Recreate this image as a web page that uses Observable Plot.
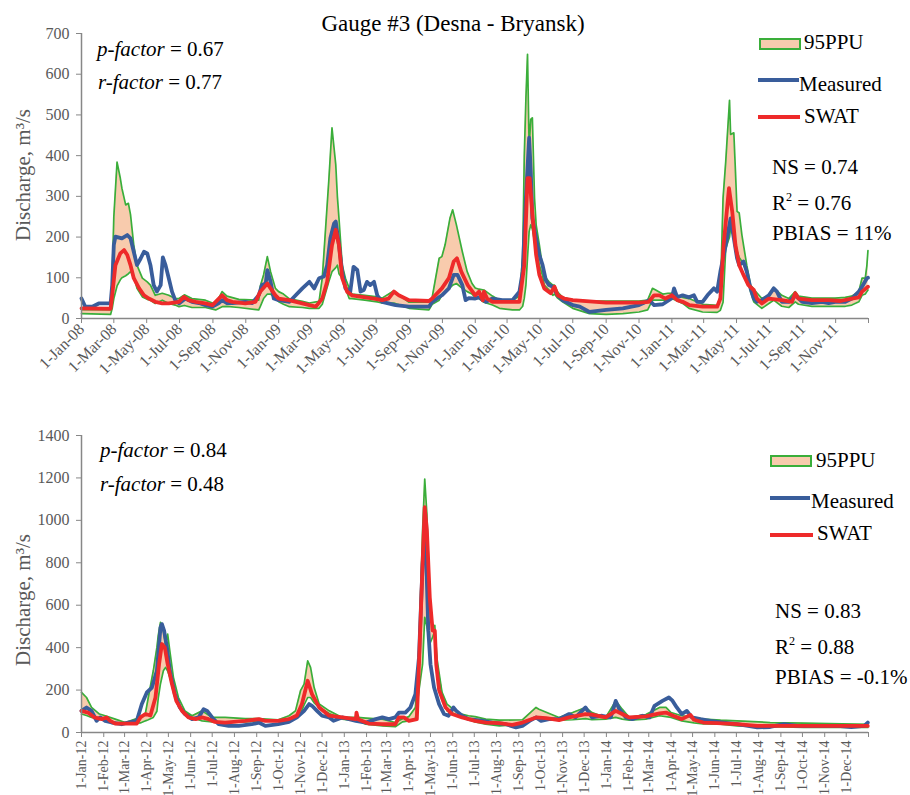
<!DOCTYPE html>
<html><head><meta charset="utf-8">
<script src="https://cdn.jsdelivr.net/npm/d3@7"></script>
<script src="https://cdn.jsdelivr.net/npm/@observablehq/plot@0.6"></script>
<style>
body{margin:0;background:#fff;}
#wrap{position:relative;width:910px;height:795px;overflow:hidden;font-family:"Liberation Serif","Times New Roman",serif;color:#000;background:#fff;}
.t{position:absolute;white-space:nowrap;line-height:1;}
.sup{font-size:0.58em;position:relative;top:-0.75em;line-height:0;}
.sw{position:absolute;}
</style></head><body><div id="wrap"></div>
<script>
// ---------------- DATA ----------------
const title = "Gauge #3 (Desna - Bryansk)";
const yLabel = "Discharge, m³/s";
const legendLabels = ["95PPU", "Measured", "SWAT"];
const topFactors = ["0.67", "0.77"];           // p-factor, r-factor
const bottomFactors = ["0.84", "0.48"];
const topStats = ["NS = 0.74", "R² = 0.76", "PBIAS = 11%"];
const bottomStats = ["NS = 0.83", "R² = 0.88", "PBIAS = -0.1%"];

// 95PPU band: [date, lower, upper]
const topBand = [
["2008-01-01",12,22],["2008-02-24",10,22],["2008-02-27",25,100],["2008-03-01",49,250],["2008-03-07",80,384],
["2008-03-13",95,345],["2008-03-16",100,320],["2008-03-23",105,279],["2008-03-28",110,283],["2008-04-01",115,255],
["2008-04-07",105,181],["2008-04-13",74,131],["2008-04-23",53,99],["2008-05-02",47,90],["2008-05-08",45,82],
["2008-05-17",37,57],["2008-05-30",45,62],["2008-06-11",37,57],["2008-06-23",33,49],["2008-06-30",29,49],
["2008-07-10",32,58],["2008-07-24",27,49],["2008-08-18",27,45],["2008-09-06",21,35],["2008-09-18",29,66],
["2008-09-27",30,55],["2008-10-19",27,47],["2008-11-25",21,45],["2008-11-28",30,80],["2008-12-04",49,107],
["2008-12-11",60,152],["2008-12-17",60,115],["2008-12-26",50,74],
["2009-01-01",41,66],["2009-01-10",35,60],["2009-01-21",29,48],["2009-02-14",27,42],["2009-02-27",25,38],
["2009-03-17",25,42],["2009-03-23",35,100],["2009-04-04",90,337],["2009-04-10",115,468],["2009-04-17",125,378],
["2009-04-20",131,300],["2009-04-23",110,246],["2009-04-29",99,131],["2009-05-05",74,99],["2009-05-12",49,74],
["2009-05-17",49,60],["2009-06-10",45,57],["2009-07-03",41,53],["2009-07-12",38,50],["2009-08-03",38,68],
["2009-08-10",35,60],["2009-08-31",25,40],["2009-10-07",21,40],["2009-10-13",35,52],["2009-10-26",45,148],
["2009-10-31",57,152],["2009-11-06",65,181],["2009-11-15",75,246],["2009-11-20",82,267],["2009-11-27",86,230],
["2009-12-08",74,164],["2009-12-17",66,115],["2009-12-26",60,86],
["2010-01-01",52,75],["2010-01-08",49,72],["2010-01-17",40,70],["2010-02-02",33,55],["2010-02-15",25,45],
["2010-03-11",21,45],["2010-03-24",21,55],["2010-03-30",30,150],["2010-04-02",50,400],["2010-04-05",82,540],
["2010-04-08",150,649],["2010-04-11",214,420],["2010-04-14",230,489],["2010-04-17",220,493],["2010-04-21",189,296],
["2010-04-24",170,230],["2010-04-30",131,181],["2010-05-06",105,125],["2010-05-09",82,105],["2010-05-18",70,90],
["2010-05-25",57,82],["2010-05-28",60,82],["2010-06-03",50,65],["2010-06-12",41,52],["2010-07-01",25,46],
["2010-08-01",12,43],["2010-09-01",10,43],["2010-10-02",12,43],["2010-11-01",16,43],["2010-11-17",21,45],
["2010-11-26",45,74],["2010-12-02",45,70],["2010-12-15",45,60],["2010-12-25",45,62],
["2011-01-01",49,62],["2011-01-21",37,52],["2011-02-02",25,49],["2011-02-27",16,35],["2011-03-26",15,32],
["2011-04-01",20,55],["2011-04-06",40,296],["2011-04-11",172,386],["2011-04-18",200,536],["2011-04-20",222,452],
["2011-04-26",200,456],["2011-04-29",180,362],["2011-05-02",165,263],["2011-05-06",150,259],["2011-05-11",140,205],
["2011-05-20",115,131],["2011-05-27",66,82],["2011-06-02",41,72],["2011-06-17",25,49],["2011-06-30",37,57],
["2011-07-09",45,76],["2011-07-24",30,57],["2011-08-06",27,49],["2011-08-18",41,66],["2011-08-24",35,55],
["2011-09-18",30,50],["2011-10-31",30,50],["2011-11-19",30,52],["2011-12-01",33,55],["2011-12-14",41,66],
["2011-12-20",57,99],["2011-12-26",60,99],["2011-12-29",66,130],["2011-12-31",70,167]
];
const topMeasured = [
["2008-01-01",49],["2008-01-08",29],["2008-01-21",29],["2008-02-02",37],["2008-02-24",37],["2008-02-27",82],
["2008-03-01",181],["2008-03-04",201],["2008-03-16",197],["2008-03-26",205],["2008-04-01",197],["2008-04-07",164],
["2008-04-13",131],["2008-04-20",148],["2008-04-26",164],["2008-05-02",160],["2008-05-08",131],["2008-05-14",82],
["2008-05-20",66],["2008-05-27",82],["2008-05-31",150],["2008-06-05",131],["2008-06-11",99],["2008-06-17",66],
["2008-06-23",45],["2008-06-30",37],["2008-07-12",49],["2008-07-24",41],["2008-08-06",38],["2008-08-18",33],
["2008-08-31",29],["2008-09-12",38],["2008-09-18",45],["2008-09-27",38],["2008-10-07",38],["2008-10-31",41],
["2008-11-13",38],["2008-11-25",57],["2008-12-01",82],["2008-12-08",86],["2008-12-11",119],["2008-12-17",90],
["2008-12-23",49],
["2009-01-01",45],["2009-01-21",41],["2009-02-14",74],["2009-02-27",90],["2009-03-08",74],["2009-03-17",99],
["2009-03-26",103],["2009-04-01",131],["2009-04-07",197],["2009-04-14",234],["2009-04-17",238],["2009-04-23",180],
["2009-04-29",115],["2009-05-05",74],["2009-05-14",66],["2009-05-20",127],["2009-05-27",119],["2009-06-02",66],
["2009-06-08",70],["2009-06-14",90],["2009-06-20",82],["2009-06-27",90],["2009-07-03",57],["2009-07-12",41],
["2009-08-06",33],["2009-08-31",29],["2009-10-07",29],["2009-10-13",41],["2009-10-31",57],["2009-11-13",74],
["2009-11-22",107],["2009-11-29",107],["2009-12-08",82],["2009-12-14",45],["2009-12-20",50],
["2010-01-01",49],["2010-01-08",52],["2010-01-21",41],["2010-02-02",49],["2010-02-20",45],["2010-03-11",45],
["2010-03-24",66],["2010-03-30",115],["2010-04-05",296],["2010-04-11",444],["2010-04-14",362],["2010-04-17",246],
["2010-04-24",197],["2010-04-30",156],["2010-05-06",131],["2010-05-12",94],["2010-05-18",82],["2010-05-25",78],
["2010-06-03",57],["2010-06-12",45],["2010-07-01",33],["2010-07-14",29],["2010-08-01",16],["2010-09-01",21],
["2010-10-02",25],["2010-11-01",33],["2010-11-20",45],["2010-11-29",33],["2010-12-15",35],
["2011-01-01",50],["2011-01-05",74],["2011-01-11",52],["2011-01-21",57],["2011-02-02",52],["2011-02-11",57],
["2011-02-17",41],["2011-02-27",41],["2011-03-08",57],["2011-03-20",74],["2011-03-26",66],["2011-04-01",115],
["2011-04-11",180],["2011-04-20",246],["2011-04-26",197],["2011-05-02",148],["2011-05-06",131],["2011-05-14",140],
["2011-05-20",115],["2011-05-27",74],["2011-06-02",49],["2011-06-08",41],["2011-06-17",45],["2011-06-30",57],
["2011-07-09",74],["2011-07-15",66],["2011-07-24",41],["2011-08-06",41],["2011-08-18",57],["2011-08-31",41],
["2011-09-18",38],["2011-10-07",41],["2011-10-19",38],["2011-10-31",41],["2011-11-19",41],["2011-12-01",49],
["2011-12-14",66],["2011-12-20",78],["2011-12-29",99],["2011-12-31",100]
];
const topSwat = [
["2008-01-01",25],["2008-02-24",24],["2008-02-27",57],["2008-03-04",131],["2008-03-13",160],["2008-03-20",168],
["2008-03-26",156],["2008-04-01",131],["2008-04-07",99],["2008-04-17",74],["2008-04-26",57],["2008-05-05",49],
["2008-05-17",41],["2008-05-30",37],["2008-06-11",37],["2008-06-30",41],["2008-07-09",53],["2008-07-18",45],
["2008-07-31",41],["2008-08-18",37],["2008-08-31",33],["2008-09-18",57],["2008-09-27",45],["2008-10-07",41],
["2008-10-31",37],["2008-11-19",41],["2008-11-28",66],["2008-12-11",86],["2008-12-17",74],["2008-12-26",57],
["2009-01-01",49],["2009-01-20",45],["2009-02-14",37],["2009-02-27",33],["2009-03-11",29],["2009-03-23",49],
["2009-04-01",90],["2009-04-10",180],["2009-04-17",218],["2009-04-23",180],["2009-04-29",99],["2009-05-08",66],
["2009-05-17",57],["2009-06-05",53],["2009-06-27",49],["2009-07-12",45],["2009-07-24",49],["2009-08-03",66],
["2009-08-12",57],["2009-08-31",45],["2009-10-07",43],["2009-10-13",49],["2009-10-31",74],["2009-11-13",99],
["2009-11-22",140],["2009-11-28",148],["2009-12-06",115],["2009-12-18",82],
["2010-01-01",57],["2010-01-08",66],["2010-01-15",45],["2010-01-17",66],["2010-01-23",49],["2010-02-02",41],
["2010-03-24",41],["2010-04-02",131],["2010-04-08",345],["2010-04-12",345],["2010-04-17",255],["2010-04-24",156],
["2010-04-30",107],["2010-05-09",74],["2010-05-21",62],["2010-05-28",78],["2010-06-03",57],["2010-06-15",49],
["2010-07-01",45],["2010-09-01",39],["2010-11-01",39],["2010-11-19",41],["2010-11-29",57],["2010-12-09",57],
["2010-12-20",49],
["2011-01-01",57],["2011-01-11",45],["2011-01-21",41],["2011-02-02",33],["2011-02-27",29],["2011-03-26",29],
["2011-04-01",49],["2011-04-07",180],["2011-04-17",320],["2011-04-23",263],["2011-04-29",180],["2011-05-06",131],
["2011-05-14",107],["2011-05-23",82],["2011-06-02",70],["2011-06-08",49],["2011-06-17",37],["2011-06-30",49],
["2011-07-24",45],["2011-08-12",41],["2011-08-18",62],["2011-08-24",49],["2011-09-18",45],["2011-10-19",45],
["2011-11-10",43],["2011-12-01",49],["2011-12-14",52],["2011-12-20",66],["2011-12-31",78]
];

const bottomBand = [
["2012-01-01",87,189],["2012-01-08",80,165],["2012-01-15",71,118],["2012-01-26",65,87],["2012-02-03",63,79],
["2012-02-17",47,63],["2012-03-02",39,47],["2012-03-23",45,72],["2012-03-30",55,90],["2012-04-03",60,165],
["2012-04-10",71,291],["2012-04-15",100,401],["2012-04-17",165,460],["2012-04-20",230,519],["2012-04-24",291,480],
["2012-04-27",307,417],["2012-04-30",290,464],["2012-05-03",260,385],["2012-05-08",200,260],["2012-05-15",134,165],
["2012-05-24",94,102],["2012-06-03",71,79],["2012-06-17",55,102],["2012-07-01",50,71],["2012-07-19",47,71],
["2012-08-16",50,65],["2012-09-04",55,65],["2012-10-01",55,60],["2012-10-16",65,79],["2012-10-25",80,102],
["2012-11-01",90,197],["2012-11-06",130,228],["2012-11-11",165,338],["2012-11-15",165,307],["2012-11-20",140,212],
["2012-11-27",118,134],["2012-12-11",90,102],["2012-12-29",63,71],
["2013-01-20",55,71],["2013-01-31",39,68],["2013-02-23",31,63],["2013-03-13",27,47],["2013-03-23",50,65],
["2013-04-01",55,75],["2013-04-10",65,118],["2013-04-15",200,401],["2013-04-20",322,952],["2013-04-23",543,1195],
["2013-04-26",500,1030],["2013-04-30",417,637],["2013-05-04",450,495],["2013-05-07",480,505],["2013-05-10",322,350],
["2013-05-17",181,190],["2013-05-24",102,134],["2013-06-09",79,90],["2013-06-23",63,79],["2013-07-02",50,75],
["2013-07-17",39,63],["2013-08-05",31,58],["2013-09-06",39,60],["2013-09-25",71,118],["2013-09-29",65,110],
["2013-10-27",58,71],["2013-11-15",60,94],["2013-12-03",65,118],["2013-12-12",60,94],["2013-12-31",63,71],
["2014-01-14",71,149],["2014-01-23",63,110],["2014-02-02",58,71],["2014-02-25",63,85],["2014-03-16",79,118],
["2014-03-25",75,118],["2014-04-01",71,94],["2014-04-16",55,79],["2014-05-03",45,71],["2014-05-16",41,63],
["2014-06-09",39,58],["2014-07-02",31,55],["2014-08-17",28,47],["2014-10-03",24,44],["2014-12-31",24,39]
];
const bottomMeasured = [
["2012-01-01",102],["2012-01-08",118],["2012-01-15",102],["2012-01-22",55],["2012-01-27",71],["2012-02-03",55],
["2012-02-12",47],["2012-02-26",39],["2012-03-06",47],["2012-03-18",55],["2012-03-25",134],["2012-04-01",189],
["2012-04-08",212],["2012-04-15",291],["2012-04-20",495],["2012-04-22",511],["2012-04-25",480],["2012-04-29",401],
["2012-05-03",291],["2012-05-10",181],["2012-05-17",118],["2012-05-24",87],["2012-06-03",63],["2012-06-12",71],
["2012-06-19",110],["2012-06-24",102],["2012-07-01",71],["2012-07-10",39],["2012-07-24",31],["2012-08-07",31],
["2012-08-25",39],["2012-09-04",47],["2012-09-13",31],["2012-10-01",39],["2012-10-16",50],["2012-10-27",71],
["2012-11-06",102],["2012-11-13",134],["2012-11-17",126],["2012-11-24",102],["2012-12-01",79],["2012-12-11",71],
["2012-12-17",55],["2012-12-29",71],
["2013-01-17",55],["2013-01-31",47],["2013-02-14",63],["2013-02-23",71],["2013-03-04",63],["2013-03-13",71],
["2013-03-18",94],["2013-03-27",94],["2013-04-03",118],["2013-04-10",181],["2013-04-15",354],["2013-04-20",794],
["2013-04-23",930],["2013-04-25",826],["2013-04-28",480],["2013-05-01",322],["2013-05-06",212],["2013-05-13",134],
["2013-05-20",87],["2013-05-26",79],["2013-06-02",118],["2013-06-06",102],["2013-06-14",79],["2013-06-23",63],
["2013-07-02",60],["2013-07-13",55],["2013-07-26",47],["2013-08-14",39],["2013-08-28",24],["2013-09-06",31],
["2013-09-16",55],["2013-09-25",71],["2013-10-02",55],["2013-10-13",63],["2013-10-27",63],["2013-11-10",87],
["2013-11-19",71],["2013-12-03",118],["2013-12-12",71],["2013-12-26",79],
["2014-01-07",71],["2014-01-14",149],["2014-01-19",110],["2014-01-28",71],["2014-02-06",63],["2014-02-20",79],
["2014-03-02",71],["2014-03-09",126],["2014-03-20",149],["2014-03-29",165],["2014-04-03",150],["2014-04-09",118],
["2014-04-16",87],["2014-04-23",102],["2014-04-30",71],["2014-05-12",63],["2014-05-26",55],["2014-06-13",47],
["2014-07-02",39],["2014-07-30",24],["2014-08-17",26],["2014-09-05",39],["2014-09-24",31],["2014-10-12",31],
["2014-11-19",31],["2014-12-08",26],["2014-12-26",31],["2014-12-31",47]
];
const bottomSwat = [
["2012-01-01",102],["2012-01-10",94],["2012-01-19",71],["2012-01-29",63],["2012-02-05",71],["2012-02-10",55],
["2012-02-17",42],["2012-03-18",42],["2012-03-23",71],["2012-03-30",87],["2012-04-06",80],["2012-04-13",165],
["2012-04-18",322],["2012-04-22",417],["2012-04-26",401],["2012-04-30",322],["2012-05-06",228],["2012-05-12",149],
["2012-05-20",102],["2012-05-29",71],["2012-06-08",63],["2012-06-17",71],["2012-06-26",63],["2012-07-05",50],
["2012-07-19",47],["2012-08-16",55],["2012-09-04",63],["2012-09-13",55],["2012-10-01",55],["2012-10-16",63],
["2012-10-27",80],["2012-11-03",134],["2012-11-11",244],["2012-11-17",181],["2012-11-27",118],["2012-12-11",79],
["2012-12-29",71],
["2013-01-17",63],["2013-01-18",94],["2013-01-20",63],["2013-02-04",42],["2013-02-23",39],["2013-03-13",39],
["2013-03-18",71],["2013-03-25",71],["2013-04-01",55],["2013-04-12",63],["2013-04-15",322],["2013-04-20",794],
["2013-04-23",1062],["2013-04-26",952],["2013-04-30",637],["2013-05-04",480],["2013-05-07",480],["2013-05-09",322],
["2013-05-13",200],["2013-05-22",118],["2013-05-31",87],["2013-06-14",71],["2013-06-23",63],["2013-07-02",55],
["2013-07-17",47],["2013-08-05",44],["2013-08-23",36],["2013-09-06",47],["2013-09-25",71],["2013-10-09",68],
["2013-10-27",58],["2013-11-10",71],["2013-12-03",87],["2013-12-12",84],["2013-12-31",71],
["2014-01-14",102],["2014-01-23",87],["2014-02-02",71],["2014-02-25",76],["2014-03-16",90],["2014-03-25",94],
["2014-04-03",80],["2014-04-16",63],["2014-04-28",83],["2014-05-03",60],["2014-05-16",47],["2014-06-04",44],
["2014-07-02",39],["2014-07-30",31],["2014-12-31",31]
];

// ---------------- DRAWING ----------------
const C = {fill:"#f8cbad", green:"#3aae3a", blue:"#395d9b", red:"#ee2a2a", axis:"#878787", text:"#595959"};
const fmt = d3.utcFormat("%-d-%b-%y");
const wrap = document.getElementById("wrap");

function panel(cfg) {
  const band = cfg.band.map(([d, lo, hi]) => ({date: new Date(d), lo, hi})).sort((a,b)=>a.date-b.date);
  const meas = cfg.measured.map(([d, v]) => ({date: new Date(d), v})).sort((a,b)=>a.date-b.date);
  const swat = cfg.swat.map(([d, v]) => ({date: new Date(d), v})).sort((a,b)=>a.date-b.date);
  const start = new Date(cfg.start), end = new Date(cfg.end);
  const svg = Plot.plot({
    width: 910, height: cfg.height,
    marginLeft: 81, marginRight: 42, marginTop: cfg.mt, marginBottom: cfg.mb,
    style: {fontFamily: '"Liberation Serif", serif', background: "white", overflow: "visible"},
    x: {type: "utc", domain: [start, end]},
    y: {domain: [0, cfg.yMax]},
    marks: [
      Plot.area(band, {x1: "date", y1: "lo", y2: "hi", fill: C.fill}),
      Plot.line(band, {x: "date", y: "lo", stroke: C.green, strokeWidth: 1.7}),
      Plot.line(band, {x: "date", y: "hi", stroke: C.green, strokeWidth: 1.7}),
      Plot.line(meas, {x: "date", y: "v", stroke: C.blue, strokeWidth: 3.8, strokeLinejoin: "round"}),
      Plot.line(swat, {x: "date", y: "v", stroke: C.red, strokeWidth: 3.8, strokeLinejoin: "round"}),
      Plot.ruleY([0], {stroke: C.axis, strokeWidth: 1.5}),
      Plot.ruleX([start], {stroke: C.axis, strokeWidth: 1.5}),
      Plot.axisY({ticks: d3.range(0, cfg.yMax + 1, cfg.yStep), tickSize: 5, tickPadding: 7, fontSize: 16,
        stroke: C.axis, fill: C.text, label: null, tickFormat: d => String(d)}),
      Plot.axisX({ticks: cfg.ticks, tickSize: 5, tickPadding: cfg.tickPad, tickRotate: cfg.rotate, fontSize: cfg.xFont,
        stroke: C.axis, fill: C.text, label: null, tickFormat: d => (+d >= +end ? "" : fmt(d))})
    ]
  });
  svg.style.position = "absolute";
  svg.style.left = "0px";
  svg.style.top = cfg.top + "px";
  wrap.appendChild(svg);
}

panel({band: topBand, measured: topMeasured, swat: topSwat, start: "2008-01-01", end: "2012-01-01",
  yMax: 700, yStep: 100, ticks: d3.utcMonth.every(2).range(new Date("2008-01-01"), new Date("2012-01-02")),
  rotate: -45, xFont: 16, tickPad: 3, height: 390, mt: 33, mb: 72, top: 0});
panel({band: bottomBand, measured: bottomMeasured, swat: bottomSwat, start: "2012-01-01", end: "2015-01-01",
  yMax: 1400, yStep: 200, ticks: d3.utcMonth.range(new Date("2012-01-01"), new Date("2015-01-02")),
  rotate: -90, xFont: 14, tickPad: 3, height: 395, mt: 35, mb: 63, top: 400});

// ---------------- TEXT OVERLAYS ----------------
function txt(html, x, baseline, size, opts = {}) {
  const d = document.createElement("div");
  d.className = "t";
  d.innerHTML = html;
  d.style.fontSize = size + "px";
  d.style.left = x + "px";
  d.style.top = (baseline - 0.8375 * size) + "px";
  if (opts.color) d.style.color = opts.color;
  if (opts.width) { d.style.width = opts.width + "px"; d.style.textAlign = "center"; }
  wrap.appendChild(d);
  return d;
}
function sup(s) { return s.replace("²", '<span class="sup">2</span>'); }
function swatch(x, y, w, h, style) {
  const d = document.createElement("div");
  d.className = "sw";
  Object.assign(d.style, {left: x + "px", top: y + "px", width: w + "px", height: h + "px", boxSizing: "border-box"}, style);
  wrap.appendChild(d);
}
function ylab(cx, cy) {
  const d = document.createElement("div");
  d.className = "t";
  d.textContent = yLabel;
  Object.assign(d.style, {fontSize: "21px", color: C.text, left: cx + "px", top: cy + "px",
    transform: "translate(-50%,-50%) rotate(-90deg)"});
  wrap.appendChild(d);
}

txt(title, 0, 31, 23, {width: 906});
ylab(23, 175);
ylab(23, 600);

// top annotations
txt('<i>p-factor</i> = ' + topFactors[0], 97, 57, 21);
txt('<i>r-factor</i> = ' + topFactors[1], 98, 90, 21);
swatch(759, 38, 42, 12, {background: C.fill, border: "2px solid " + C.green});
txt(legendLabels[0], 804, 50, 21);
swatch(758, 78, 41, 4, {background: C.blue});
txt(legendLabels[1], 799, 92, 21);
swatch(758, 115, 42, 4, {background: C.red});
txt(legendLabels[2], 804, 124, 21);
txt(topStats[0], 772, 175, 21);
txt(sup(topStats[1]), 772, 211, 21);
txt(topStats[2], 772, 241, 21);

// bottom annotations
txt('<i>p-factor</i> = ' + bottomFactors[0], 100, 458, 21);
txt('<i>r-factor</i> = ' + bottomFactors[1], 100, 492, 21);
swatch(770, 455, 42, 12, {background: C.fill, border: "2px solid " + C.green});
txt(legendLabels[0], 816, 468, 21);
swatch(770, 496, 40, 4, {background: C.blue});
txt(legendLabels[1], 811, 509, 21);
swatch(770, 533, 43, 4, {background: C.red});
txt(legendLabels[2], 817, 541, 21);
txt(bottomStats[0], 775, 619, 21);
txt(sup(bottomStats[1]), 775, 655, 21);
txt(bottomStats[2], 775, 685, 21);
</script>
</body></html>
